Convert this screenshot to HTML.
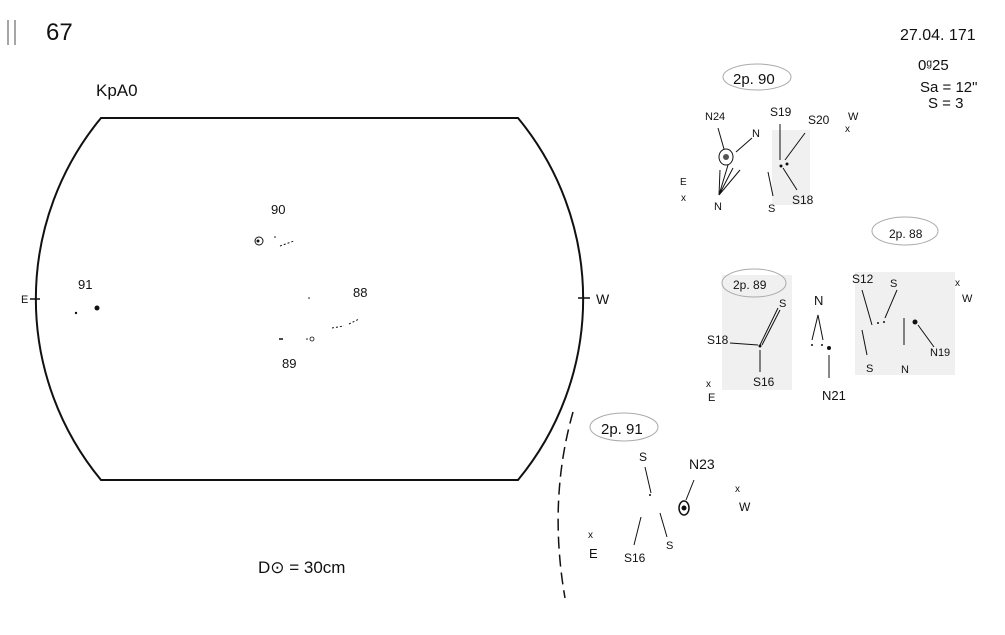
<!DOCTYPE html>
<html><head><meta charset="utf-8"><style>
html,body{margin:0;padding:0;background:#fff;width:1005px;height:635px;overflow:hidden}
svg text{font-family:"Liberation Sans",sans-serif;fill:#111}
</style></head><body>
<svg width="1005" height="635" viewBox="0 0 1005 635" xmlns="http://www.w3.org/2000/svg">
<rect width="1005" height="635" fill="#fff"/>
<g fill="#f0f0f0">
<rect x="772" y="130" width="38" height="75"/>
<rect x="722" y="275" width="70" height="115"/>
<rect x="855" y="272" width="100" height="103"/>
</g>
<path d="M8 20 L8 45 M15 20 L15 45" stroke="#888" stroke-width="1.5"/>
<text x="46" y="40" font-size="24">67</text>
<text x="900" y="40" font-size="16">27.04. 171</text>
<text x="918" y="70" font-size="15">0ᵍ25</text>
<text x="920" y="92" font-size="15">Sa = 12"</text>
<text x="928" y="108" font-size="15">S = 3</text>
<text x="96" y="96" font-size="17">KpA0</text>
<path d="M101 118 L518 118 A284 284 0 0 1 518 480 L101 480 A284 284 0 0 1 101 118 Z" fill="none" stroke="#111" stroke-width="2"/>
<path d="M30 299 L40 299 M578 298 L590 298" stroke="#111" stroke-width="1.5"/>
<text x="21" y="303" font-size="11">E</text>
<text x="596" y="304" font-size="14">W</text>
<text x="271" y="214" font-size="13">90</text>
<circle cx="259" cy="241" r="4" fill="none" stroke="#111"/>
<circle cx="258" cy="241" r="1.5" fill="#111"/>
<path d="M280 246 l14 -5" stroke="#111" stroke-dasharray="2 2"/>
<circle cx="275" cy="237" r="0.8" fill="#111"/>
<text x="78" y="289" font-size="13">91</text>
<circle cx="97" cy="308" r="2.5" fill="#111"/><circle cx="76" cy="313" r="1.2" fill="#111"/>
<text x="353" y="297" font-size="13">88</text>
<path d="M332 328 l12 -2 M349 324 l10 -5" stroke="#111" stroke-dasharray="2 2"/>
<circle cx="309" cy="298" r="0.8" fill="#111"/>
<path d="M279 339 l4 0" stroke="#111" stroke-width="1.5"/>
<circle cx="312" cy="339" r="2" fill="none" stroke="#111" stroke-width="0.8"/><circle cx="307" cy="339" r="0.8" fill="#111"/>
<text x="282" y="368" font-size="13">89</text>
<text x="258" y="573" font-size="17">D⊙ = 30cm</text>
<path d="M573 412 Q548 500 565 598" fill="none" stroke="#111" stroke-width="1.5" stroke-dasharray="12 6"/>
<ellipse cx="757" cy="77" rx="34" ry="13" fill="none" stroke="#aaa"/>
<text x="733" y="84" font-size="15">2p. 90</text>
<text x="705" y="120" font-size="11">N24</text>
<text x="770" y="116" font-size="12">S19</text>
<text x="808" y="124" font-size="12">S20</text>
<text x="848" y="120" font-size="11">W</text>
<text x="845" y="132" font-size="10">x</text>
<text x="752" y="137" font-size="11">N</text>
<text x="680" y="185" font-size="10">E</text>
<text x="681" y="201" font-size="10">x</text>
<ellipse cx="726" cy="157" rx="7" ry="8" fill="none" stroke="#111"/>
<circle cx="726" cy="157" r="3" fill="#555"/>
<path d="M718 128 L724 149 M736 152 L752 138 M719 195 L720 170 M719 195 L728 165 M719 195 L733 168 M719 195 L740 170 M780 124 L780 160 M805 133 L785 160 M783 168 L797 190 M773 196 L768 172" stroke="#111" stroke-width="1" fill="none"/>
<circle cx="781" cy="166" r="1.5" fill="#111"/><circle cx="787" cy="164" r="1.5" fill="#111"/>
<text x="714" y="210" font-size="11">N</text>
<text x="768" y="212" font-size="11">S</text>
<text x="792" y="204" font-size="12">S18</text>
<ellipse cx="905" cy="231" rx="33" ry="14" fill="none" stroke="#aaa"/>
<text x="889" y="238" font-size="12" fill="#555">2p. 88</text>
<text x="852" y="283" font-size="12">S12</text>
<text x="890" y="287" font-size="11">S</text>
<text x="955" y="286" font-size="10">x</text>
<text x="962" y="302" font-size="11">W</text>
<path d="M862 290 L872 325 M885 318 L897 290 M904 318 L904 345 M918 325 L934 347 M862 330 L867 355" stroke="#111" fill="none"/>
<circle cx="878" cy="323" r="1" fill="#111"/><circle cx="884" cy="322" r="1" fill="#111"/>
<circle cx="915" cy="322" r="2.5" fill="#111"/>
<text x="866" y="372" font-size="11">S</text>
<text x="901" y="373" font-size="11">N</text>
<text x="930" y="356" font-size="11">N19</text>
<ellipse cx="754" cy="283" rx="32" ry="14" fill="none" stroke="#aaa"/>
<text x="733" y="289" font-size="12">2p. 89</text>
<text x="779" y="307" font-size="11">S</text>
<text x="707" y="344" font-size="12">S18</text>
<path d="M730 343 L758 345 M760 345 L778 308 M762 345 L780 310 M760 350 L760 372" stroke="#111" fill="none"/>
<circle cx="760" cy="346" r="1.5" fill="#111"/>
<text x="706" y="387" font-size="10">x</text>
<text x="708" y="401" font-size="11">E</text>
<text x="753" y="386" font-size="12">S16</text>
<text x="814" y="305" font-size="13">N</text>
<path d="M812 340 L818 315 L823 340 M829 355 L829 378" stroke="#111" fill="none"/>
<circle cx="812" cy="345" r="1" fill="#111"/><circle cx="822" cy="345" r="1" fill="#111"/>
<circle cx="829" cy="348" r="2" fill="#111"/>
<text x="822" y="400" font-size="13">N21</text>
<ellipse cx="624" cy="427" rx="34" ry="14" fill="none" stroke="#aaa"/>
<text x="601" y="434" font-size="15">2p. 91</text>
<text x="639" y="461" font-size="12">S</text>
<text x="689" y="469" font-size="14">N23</text>
<path d="M645 467 L651 493 M694 480 L686 500 M641 517 L634 545 M660 513 L667 537" stroke="#111" fill="none"/>
<circle cx="650" cy="495" r="1" fill="#111"/>
<ellipse cx="684" cy="508" rx="5" ry="7" fill="none" stroke="#111" stroke-width="1.5"/>
<circle cx="684" cy="508" r="2.5" fill="#111"/>
<text x="735" y="492" font-size="10">x</text>
<text x="739" y="511" font-size="12" fill="#555">W</text>
<text x="588" y="538" font-size="10">x</text>
<text x="589" y="558" font-size="13">E</text>
<text x="624" y="562" font-size="12">S16</text>
<text x="666" y="549" font-size="11">S</text>
</svg>
</body></html>
